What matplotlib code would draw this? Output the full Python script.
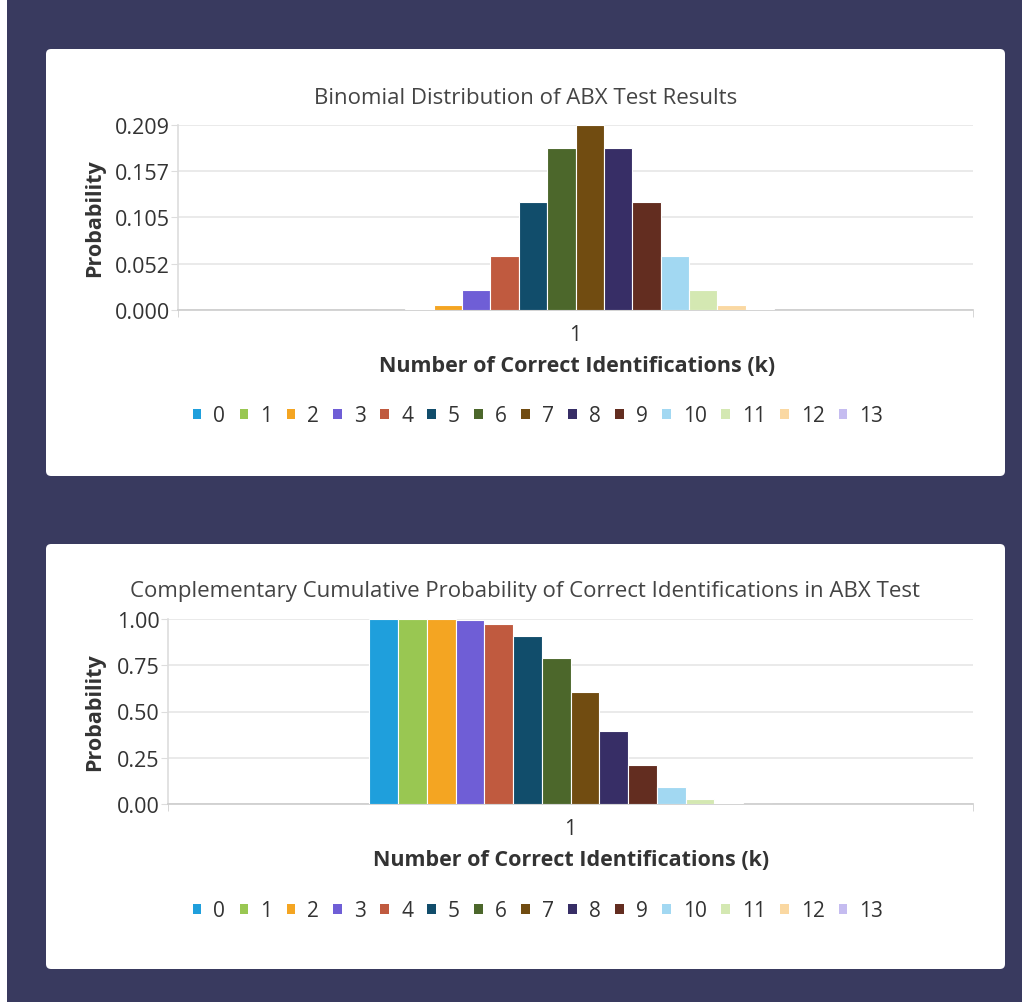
import matplotlib
matplotlib.use('Agg')
import matplotlib.pyplot as plt
from matplotlib.patches import FancyBboxPatch, Rectangle, Patch

W, H = 1022, 1003
BG = '#393a5f'
FONT = 'Open Sans'
plt.rcParams.update({'font.family': FONT})

# data
ks = [str(k) for k in range(14)]
pmf = [0.0001, 0.0009, 0.0056, 0.0222, 0.0611, 0.1222, 0.1833,
       0.2095, 0.1833, 0.1222, 0.0611, 0.0222, 0.0056, 0.0009]
ccdf = [1.0, 0.9999, 0.9991, 0.9935, 0.9713, 0.9102, 0.7880,
        0.6047, 0.3953, 0.2120, 0.0898, 0.0287, 0.0065, 0.0009]
pmf_ticks = [0.000, 0.052, 0.105, 0.157, 0.209]
pmf_top = 0.2095
ccdf_ticks = [0.00, 0.25, 0.50, 0.75, 1.00]
COLORS = ['#1f9fdc', '#99c752', '#f4a522', '#6f5ed6', '#c05a3f', '#114d6b', '#4c672b',
          '#714c11', '#372e66', '#632d20', '#a2d8f2', '#d4e8b2', '#fad8a2', '#c5bcf0']

fig = plt.figure(figsize=(W / 100, H / 100), dpi=100)
fig.patch.set_facecolor('white')
fig.patches.append(Rectangle((7 / W, 0), 1 - 7 / W, 1, transform=fig.transFigure,
                             facecolor=BG, edgecolor='none', zorder=0))


def fx(px): return px / W
def fy(py): return 1 - py / H


def card(x0, y0, x1, y1):
    fig.patches.append(FancyBboxPatch((fx(x0), fy(y1)), fx(x1 - x0), (y1 - y0) / H,
                                      boxstyle='round,pad=0,rounding_size=0.005',
                                      transform=fig.transFigure, facecolor='white',
                                      edgecolor='none', zorder=1))


def panel(rect_px, vals, ticks, fmt, top, title, title_xy, xlab_xy, ylab_xy, leg_y):
    l, t, r, b = rect_px
    ax = fig.add_axes([fx(l), fy(b), fx(r - l), (b - t) / H], zorder=3)
    ax.set_facecolor('none')
    n = len(vals)
    w = 0.5 / n
    for i, v in enumerate(vals):
        ax.bar(1 + (i - (n - 1) / 2) * w, v, width=w, color=COLORS[i],
               edgecolor='white', lw=0.8, zorder=3)
    ax.set_xlim(0.5, 1.5); ax.set_ylim(0, top)
    ax.set_yticks(ticks); ax.set_yticklabels([fmt.format(v) for v in ticks])
    ax.set_xticks([1]); ax.set_xticklabels(['1'])
    ax.set_xticks([0.5, 1.5], minor=True)
    ax.tick_params(axis='x', which='major', length=0, pad=10, labelsize=15, labelcolor='#333333')
    ax.tick_params(axis='x', which='minor', length=5, color='#d0d0d0')
    ax.tick_params(axis='y', length=5, color='#dddddd', pad=1, labelsize=15.5, labelcolor='#333333')
    ax.grid(axis='y', color='#e6e6e6', lw=1.2, zorder=0)
    for s in ('top', 'right'):
        ax.spines[s].set_visible(False)
    ax.spines['left'].set_color('#dddddd'); ax.spines['left'].set_linewidth(1.2)
    ax.spines['bottom'].set_color('#cccccc'); ax.spines['bottom'].set_linewidth(1.2)
    fig.text(fx(title_xy[0]), fy(title_xy[1]), title, ha='center', va='center',
             fontsize=16, color='#444444')
    fig.text(fx(xlab_xy[0]), fy(xlab_xy[1]), 'Number of Correct Identifications (k)',
             ha='center', va='center', fontsize=15.5, fontweight='bold', color='#333333')
    fig.text(fx(ylab_xy[0]), fy(ylab_xy[1]), 'Probability', ha='center', va='center',
             rotation=90, fontsize=15.5, fontweight='bold', color='#333333')
    handles = [Patch(facecolor=c, edgecolor='none') for c in COLORS]
    fig.legend(handles, ks, loc='center', bbox_to_anchor=(fx(538), fy(leg_y)), ncol=14,
               frameon=False, fontsize=15, handlelength=0.42, handleheight=0.42,
               handletextpad=0.58, columnspacing=0.68, labelcolor='#333333')
    return ax


card(46, 50, 1005, 477)
card(46, 545, 1005, 970)

panel((178, 126, 973, 311), pmf, pmf_ticks, '{:.3f}', pmf_top,
      'Binomial Distribution of ABX Test Results', (526, 98), (577, 367), (95, 218), 417)
panel((168, 620, 973, 805), ccdf, ccdf_ticks, '{:.2f}', 1.0,
      'Complementary Cumulative Probability of Correct Identifications in ABX Test',
      (525, 592), (571, 861), (95, 712), 912)

fig.savefig('out.png', dpi=100, facecolor=fig.get_facecolor())
